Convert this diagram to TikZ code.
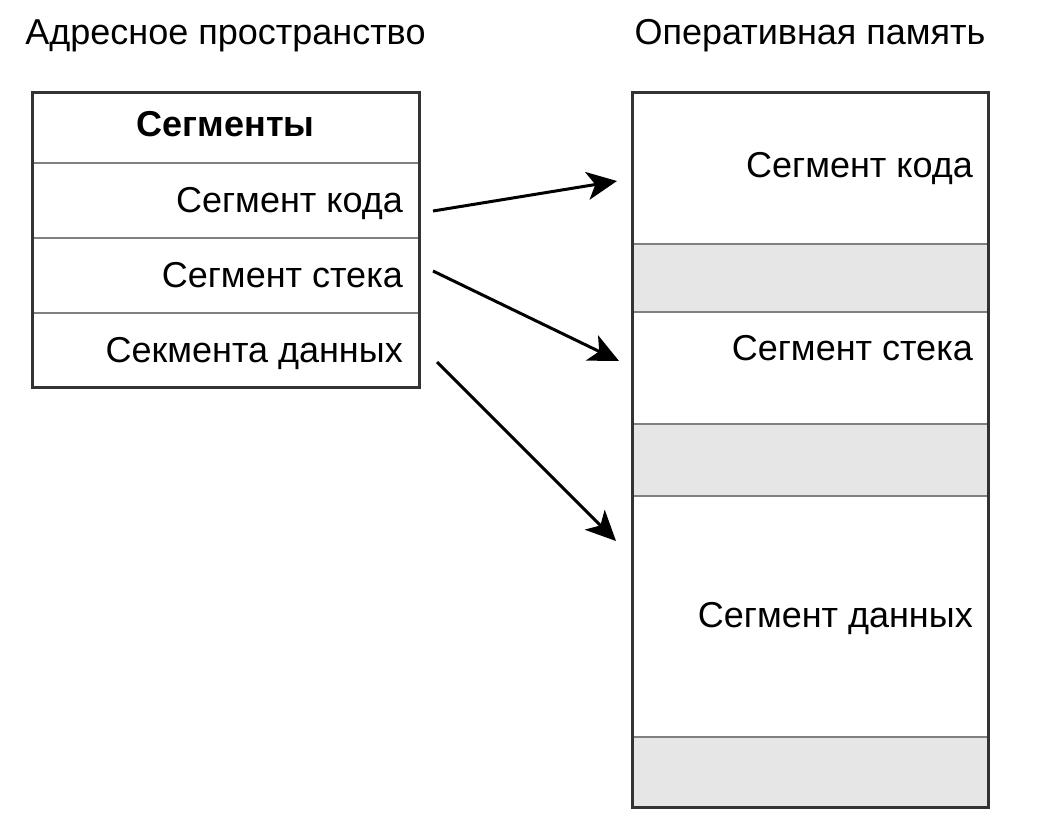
\documentclass[tikz,border=0pt]{standalone}
\usepackage{fontspec}
\setmainfont{Liberation Sans}
\usetikzlibrary{arrows.meta}

\definecolor{frameclr}{HTML}{333333}
\definecolor{sepclr}{HTML}{808080}
\definecolor{freeclr}{HTML}{E6E6E6}

\begin{document}
\begin{tikzpicture}[x=1pt,y=-1pt]
\tikzstyle{lbl}=[inner sep=0pt,font=\fontsize{36}{42}\selectfont];
\tikzstyle{frame}=[draw=frameclr,line width=3pt];
\tikzstyle{sep}=[draw=sepclr,line width=2.5pt];
\tikzstyle{free}=[fill=freeclr];
\tikzstyle{arr}=[line width=3pt,-{Stealth[length=30pt,width=28pt,inset=8pt]}];
\useasboundingbox (0,0) rectangle (1038,813);

% titles
\node[lbl,anchor=base] (adr) at (225.5,45) {Адресное пространство};
\node[lbl,anchor=base] (ram) at (810,45) {Оперативная память};

% segment table
\foreach \y in {163,238,313}
	\draw[sep] (32,\y) -- (419,\y);
\draw[frame] (32,93) rectangle (419,387);
\node[lbl,anchor=base] (hdr) at (225.5,137) {\bfseries Сегменты};
\node[lbl,anchor=base east] (tkod) at (403,212) {Сегмент кода};
\node[lbl,anchor=base east] (tstek) at (403,287) {Сегмент стека};
\node[lbl,anchor=base east] (tdan) at (403,362) {Секмента данных};

% memory
\foreach \a/\b in {244/312,424/496,737/807} {
	\fill[free] (632,\a) rectangle (988,\b);
	\draw[sep] (632,\a) -- (988,\a);
}
\draw[sep] (632,312) -- (988,312);
\draw[sep] (632,496) -- (988,496);
\draw[frame] (632,93) rectangle (988,807);
\node[lbl,anchor=base east] (mkod) at (973,178) {Сегмент кода};
\node[lbl,anchor=base east] (mstek) at (973,360) {Сегмент стека};
\node[lbl,anchor=base east] (mdan) at (973,627) {Сегмент данных};

% arrows
\coordinate (s1) at (433,211);
\coordinate (s2) at (433,271);
\coordinate (s3) at (437,362);
\coordinate (e1) at (617,181);
\coordinate (e2) at (619,361);
\coordinate (e3) at (616,541);
\draw[arr] (s1) -- (e1);
\draw[arr] (s2) -- (e2);
\draw[arr] (s3) -- (e3);
\end{tikzpicture}
\end{document}
